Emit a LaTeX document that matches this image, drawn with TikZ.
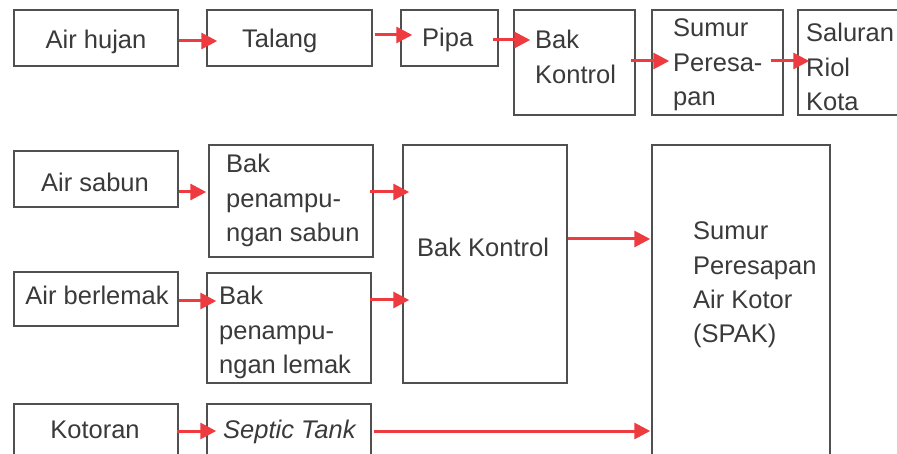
\documentclass[tikz,border=0pt]{standalone}
\usepackage{fontspec}
\setmainfont{Liberation Sans}
\usetikzlibrary{arrows.meta}
\definecolor{boxc}{HTML}{505050}
\definecolor{txtc}{HTML}{3A3A3A}
\definecolor{arrc}{HTML}{EE3B3F}
\newcommand{\ml}[1]{\begin{tabular}[t]{@{}l@{}}#1\end{tabular}}
\begin{document}
\begin{tikzpicture}[x=1pt,y=-1pt,
  box/.style={draw=boxc,line width=1.5pt,inner sep=0pt,rectangle},
  txt/.style={anchor=base west,inner sep=0pt,text=txtc,font=\fontsize{25.5}{34.3}\selectfont},
  ctxt/.style={txt,anchor=base},
  arr/.style={draw=arrc,line width=3pt,-{Triangle[length=16pt,width=16pt]}}]
\clip (0,0) rectangle (897,454);
\fill[white] (0,0) rectangle (897,454);
% boxes row 1
\node[box,minimum width=164pt,minimum height=56pt] (airhujan) at (96,38) {};
\node[box,minimum width=165pt,minimum height=56pt] (talang) at (289.5,38) {};
\node[box,minimum width=97pt,minimum height=56pt] (pipa) at (449.5,38) {};
\node[box,minimum width=121pt,minimum height=105pt] (bak1) at (574.5,62.5) {};
\node[box,minimum width=131pt,minimum height=105pt] (sumur1) at (717.5,62.5) {};
\node[box,minimum width=110pt,minimum height=105pt] (saluran) at (853,62.5) {};
% boxes rows 2-4
\node[box,minimum width=164pt,minimum height=56pt] (airsabun) at (96,179) {};
\node[box,minimum width=164pt,minimum height=112pt] (tsabun) at (291,201) {};
\node[box,minimum width=164pt,minimum height=238pt] (bak2) at (485,264) {};
\node[box,minimum width=178pt,minimum height=325pt] (spak) at (741,307.5) {};
\node[box,minimum width=164pt,minimum height=54pt] (berlemak) at (96,299) {};
\node[box,minimum width=164pt,minimum height=110pt] (tlemak) at (289,328) {};
\node[box,minimum width=164pt,minimum height=66pt] (kotoran) at (96,437) {};
\node[box,minimum width=164pt,minimum height=66pt] (septic) at (289,437) {};
% texts
\node[ctxt] (l1) at (96,49) {Air hujan};
\node[txt] (l2) at (242,48) {Talang};
\node[txt] (l3) at (422,47) {Pipa};
\node[txt] (l4) at (535,49) {\ml{Bak\\Kontrol}};
\node[txt] (l5) at (673,37) {\ml{Sumur\\Peresa-\\pan}};
\node[txt] (l6) at (806,42) {\ml{Saluran\\Riol\\Kota}};
\node[ctxt] (l7) at (95,192) {Air sabun};
\node[txt] (l8) at (226,173) {\ml{Bak\\penampu-\\ngan sabun}};
\node[txt] (l9) at (417,257) {Bak Kontrol};
\node[txt] (l10) at (693,240) {\ml{Sumur\\Peresapan\\Air Kotor\\(SPAK)}};
\node[ctxt] (l11) at (97,305) {Air berlemak};
\node[txt] (l12) at (219,305) {\ml{Bak\\penampu-\\ngan lemak}};
\node[ctxt] (l13) at (95,438) {Kotoran};
\node[txt] (l14) at (223,438) {\itshape Septic Tank};
% arrows
\draw[arr,shorten >=-11pt] (airhujan.east |- 0,41) -- (talang.west |- 0,41);
\draw[arr,shorten <=2pt,shorten >=-12pt] (talang.east |- 0,35) -- (pipa.west |- 0,35);
\draw[arr,shorten <=-6pt,shorten >=-17pt] (pipa.east |- 0,40) -- (bak1.west |- 0,40);
\draw[arr,shorten <=-5pt,shorten >=-18pt] (bak1.east |- 0,61) -- (sumur1.west |- 0,61);
\draw[arr,shorten <=-13pt,shorten >=-12pt] (sumur1.east |- 0,61) -- (saluran.west |- 0,61);
\draw[arr,shorten >=2pt] (airsabun.east |- 0,192) -- (tsabun.west |- 0,192);
\draw[arr,shorten <=-4pt,shorten >=-7pt] (tsabun.east |- 0,192) -- (bak2.west |- 0,192);
\draw[arr,shorten >=-10pt] (berlemak.east |- 0,301) -- (tlemak.west |- 0,301);
\draw[arr,shorten <=-2pt,shorten >=-7pt] (tlemak.east |- 0,300) -- (bak2.west |- 0,300);
\draw[arr,shorten >=1pt] (bak2.east |- 0,239) -- (spak.west |- 0,239);
\draw[arr,shorten <=-2pt,shorten >=-10pt] (kotoran.east |- 0,431) -- (septic.west |- 0,431);
\draw[arr,shorten <=2pt,shorten >=1pt] (septic.east |- 0,431) -- (spak.west |- 0,431);
\end{tikzpicture}
\end{document}
